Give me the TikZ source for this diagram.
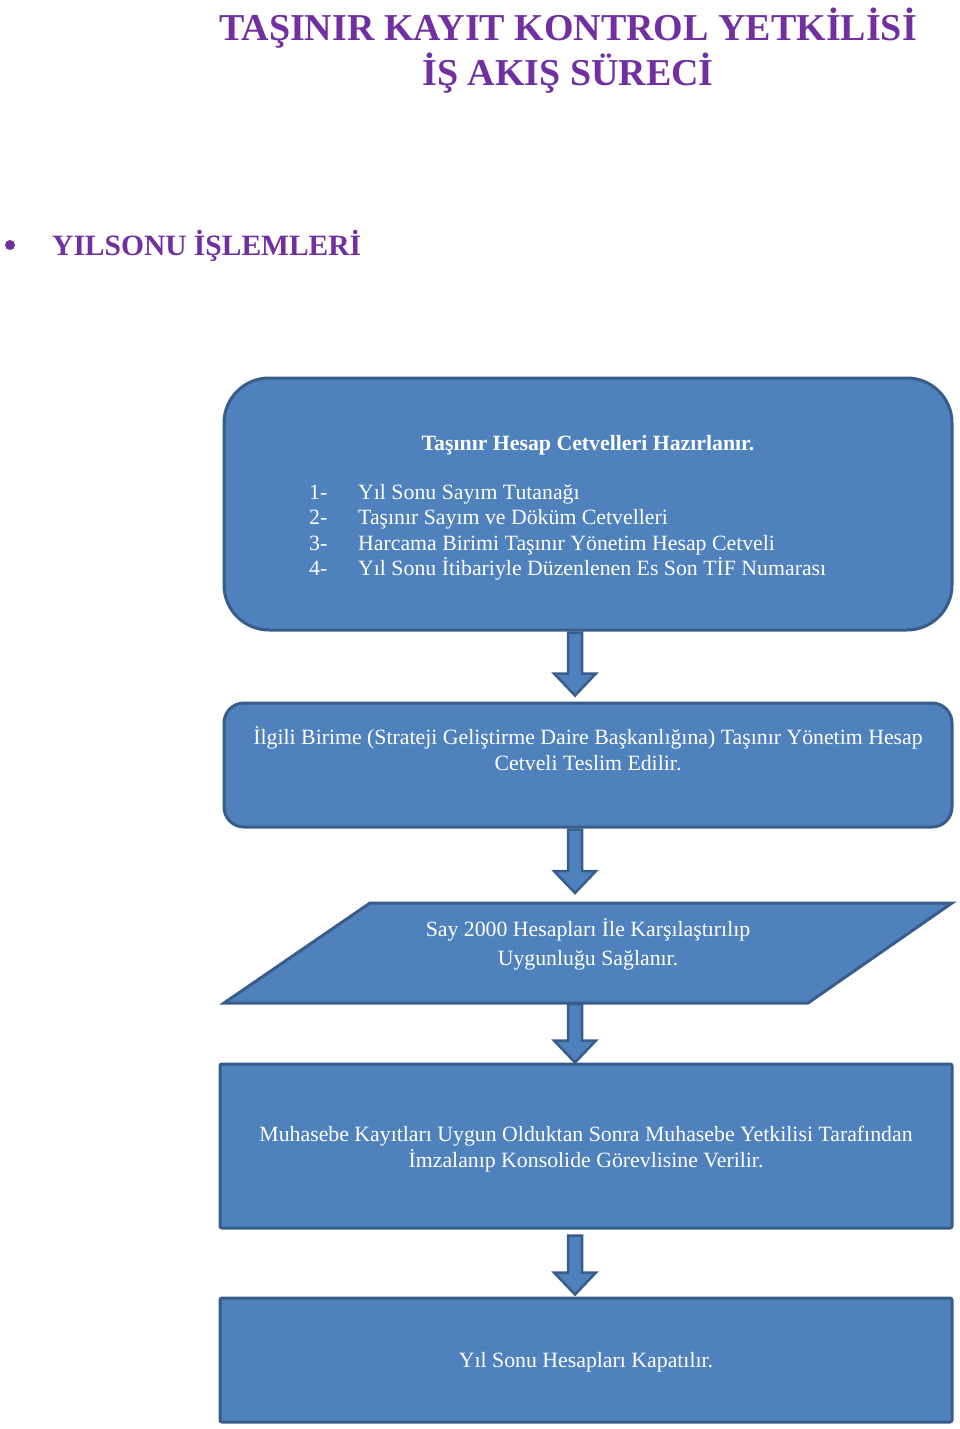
\documentclass[tikz,border=0pt]{standalone}
\usepackage{fontspec}
\setmainfont{Liberation Serif}
\usetikzlibrary{calc}
\definecolor{boxfill}{HTML}{4F81BD}
\definecolor{boxline}{HTML}{385D8A}
\definecolor{ttl}{HTML}{7030A0}
\newcommand{\blockarrow}[2]{%
  \path[flowarrow] let \p1=(#1), \p2=(#2) in
    (\x1-7pt,\y1) -- (\x1-7pt,\y2+22pt) -- (\x1-21pt,\y2+22pt) -- (\x1,\y2)
    -- (\x1+21pt,\y2+22pt) -- (\x1+7pt,\y2+22pt) -- (\x1+7pt,\y1) -- cycle;}
\begin{document}
\begin{tikzpicture}[x=1pt,y=-1pt,
  box/.style={draw=boxline,fill=boxfill,line width=3pt,inner sep=0pt},
  txt/.style={text=white,font=\fontsize{21.8}{26}\selectfont,inner sep=0pt,align=center},
  ttltext/.style={text=ttl,inner sep=0pt,font=\fontsize{38}{44}\selectfont\bfseries},
  flowarrow/.style={draw=boxline,fill=boxfill,line width=2.5pt,line join=miter}]
\useasboundingbox (0,0) rectangle (960,1429);

% titles
\node[ttltext,anchor=base] (title1) at (568,41) {TAŞINIR KAYIT KONTROL YETKİLİSİ};
\node[ttltext,anchor=base] (title2) at (568,85) {İŞ AKIŞ SÜRECİ};
\node[circle,fill=ttl,minimum size=10pt,inner sep=0pt] (bullet) at (10,245) {};
\node[ttltext,anchor=base west,font=\fontsize{29.5}{34}\selectfont\bfseries] (sect) at (52,255) {YILSONU İŞLEMLERİ};

% boxes
\node[box,rounded corners=45pt,minimum width=728pt,minimum height=252pt] (b1) at (588,504) {};
\node[box,rounded corners=20pt,minimum width=728pt,minimum height=124pt] (b2) at (588,765) {};
\coordinate (p1) at (370,903);
\coordinate (p2) at (952,903);
\coordinate (p3) at (808,1003);
\coordinate (p4) at (224,1003);
\draw[box,line join=miter] (p1) -- (p2) -- (p3) -- (p4) -- cycle;
\coordinate (b3top) at (575,903);
\coordinate (b3bot) at (575,1003);
\node[box,rounded corners=2pt,minimum width=732pt,minimum height=164pt] (b4) at (586,1146) {};
\node[box,rounded corners=2pt,minimum width=732pt,minimum height=124pt] (b5) at (586,1360) {};

% texts
\node[txt,anchor=base,font=\fontsize{21.8}{26}\selectfont\bfseries] (t1) at (588,450) {Taşınır Hesap Cetvelleri Hazırlanır.};
\node[txt,anchor=base west,font=\fontsize{21.8}{25.5}\selectfont] (t1list) at (309,499) {%
  \begin{tabular}[t]{@{}p{49pt}@{}l@{}}
  1- & Yıl Sonu Sayım Tutanağı\\
  2- & Taşınır Sayım ve Döküm Cetvelleri\\
  3- & Harcama Birimi Taşınır Yönetim Hesap Cetveli\\
  4- & Yıl Sonu İtibariyle Düzenlenen Es Son TİF Numarası
  \end{tabular}};
\node[txt,anchor=base] (t2) at (588,770) {İlgili Birime (Strateji Geliştirme Daire Başkanlığına) Taşınır Yönetim Hesap\\Cetveli Teslim Edilir.};
\node[txt,anchor=base,font=\fontsize{21.8}{29}\selectfont] (t3) at (588,965) {Say 2000 Hesapları İle Karşılaştırılıp\\Uygunluğu Sağlanır.};
\node[txt,anchor=base] (t4) at (586,1167) {Muhasebe Kayıtları Uygun Olduktan Sonra Muhasebe Yetkilisi Tarafından\\İmzalanıp Konsolide Görevlisine Verilir.};
\node[txt,anchor=base] (t5) at (586,1367) {Yıl Sonu Hesapları Kapatılır.};

% arrows
\blockarrow{$(b1.south)+(-13,1)$}{$(b2.north)+(-13,-6)$}
\blockarrow{$(b2.south)+(-13,1)$}{$(b3top)+(0,-10)$}
\blockarrow{$(b3bot)+(0,1)$}{$(b4.north)+(-11,0)$}
\blockarrow{$(b4.south)+(-11,6)$}{$(b5.north)+(-11,-2)$}
\end{tikzpicture}
\end{document}
